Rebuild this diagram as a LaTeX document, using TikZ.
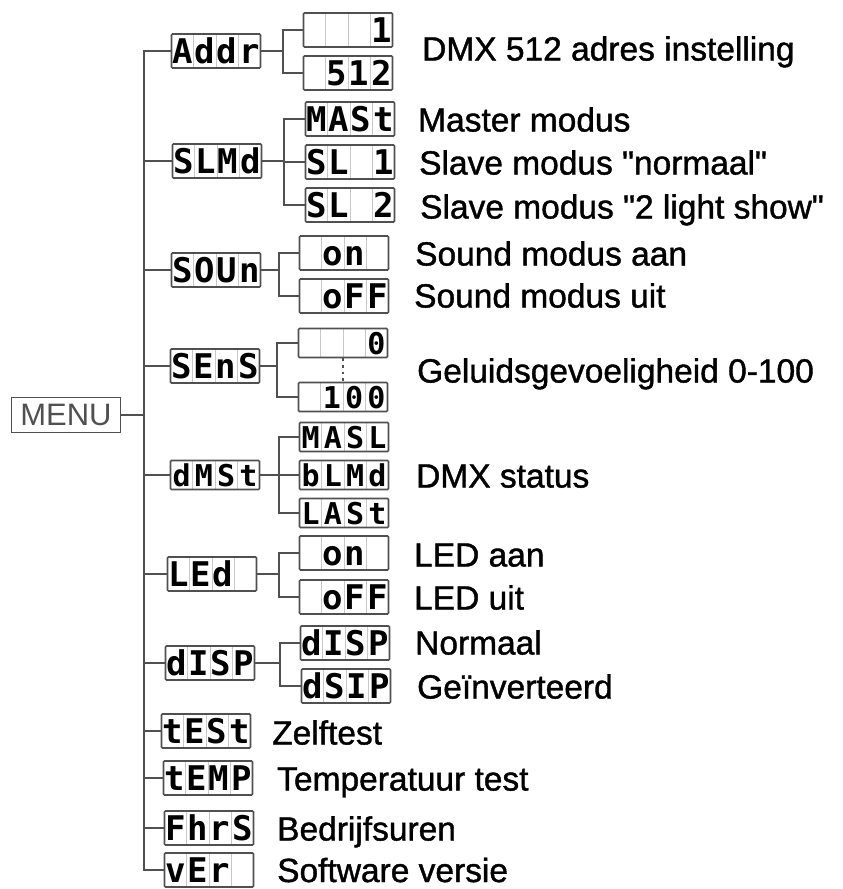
\documentclass[tikz,border=0pt]{standalone}
\usepackage{fontspec}
\setmainfont{Liberation Sans}[Ligatures=TeXOff]
\newfontfamily\lblfont{Liberation Sans}[Ligatures=TeXOff,FakeBold=1.2]
\newfontfamily\segfont{DejaVu Sans Mono}
\usetikzlibrary{calc}
\definecolor{ln}{RGB}{80,80,80}
\definecolor{sepc}{RGB}{200,200,200}
\newcommand\sgt[4]{\makebox[22.25pt]{#1}\makebox[22.25pt]{#2}\makebox[22.25pt]{#3}\makebox[22.25pt]{#4}}
\begin{document}
\begin{tikzpicture}[x=1pt,y=-1pt,
  conn/.style={draw=ln,line width=1.8pt},
  segbox/.style={draw=ln, line width=1.6pt, rounded corners=1pt,
    minimum width=89pt, minimum height=34pt, inner sep=0pt,
    font=\segfont\bfseries\fontsize{34}{34}\selectfont,
    text height=25pt, text depth=0pt,
    path picture={\foreach \f in {0.25,0.5,0.75}
      \draw[sepc,line width=0.9pt]
        ($(path picture bounding box.south west)!\f!(path picture bounding box.south east)$) --
        ($(path picture bounding box.north west)!\f!(path picture bounding box.north east)$);}},
  segs/.style={segbox, minimum height=29pt, text height=22.5pt, font=\segfont\bfseries\fontsize{30}{30}\selectfont},
  lbl/.style={anchor=base west, inner sep=0pt, text depth=0pt, font=\lblfont\fontsize{33.5}{36}\selectfont},
]
\useasboundingbox (0,0) rectangle (843,889);

% root
\node[draw=ln, line width=1.6pt, minimum width=109pt, minimum height=35pt, inner sep=0pt,
      text=ln, font=\fontsize{31}{31}\selectfont] (menu) at (66,415) {MENU};

% level 1
\node[segbox] (addr) at (216,51)  {\sgt{A}{d}{d}{r}};
\node[segbox] (slmd) at (217,161) {\sgt{S}{L}{M}{d}};
\node[segbox] (soun) at (216,270) {\sgt{S}{O}{U}{n}};
\node[segbox] (sens) at (215,366) {\sgt{S}{E}{n}{S}};
\node[segs]   (dmst) at (215,475) {\sgt{d}{M}{S}{t}};
\node[segbox] (led)  at (212,574) {\sgt{L}{E}{d}{}};
\node[segbox] (disp) at (210,663) {\sgt{d}{I}{S}{P}};
\node[segbox] (test) at (206,731) {\sgt{t}{E}{S}{t}};
\node[segbox] (temp) at (208,778) {\sgt{t}{E}{M}{P}};
\node[segbox] (fhrs) at (209,828) {\sgt{F}{h}{r}{S}};
\node[segbox] (ver)  at (209,870) {\sgt{v}{E}{r}{}};

% level 2
\node[segbox] (a1) at (348,30)  {\sgt{}{}{}{1}};
\node[segbox] (a2) at (348,73)  {\sgt{}{5}{1}{2}};
\node[segbox] (s1) at (350,119) {\sgt{M}{A}{S}{t}};
\node[segbox] (s2) at (350,162) {\sgt{S}{L}{}{1}};
\node[segbox] (s3) at (350,205) {\sgt{S}{L}{}{2}};
\node[segbox] (o1) at (344,253) {\sgt{}{o}{n}{}};
\node[segbox] (o2) at (344,296) {\sgt{}{o}{F}{F}};
\node[segs]   (n1) at (343,343) {\sgt{}{}{}{0}};
\node[segs]   (n2) at (343,397) {\sgt{}{1}{0}{0}};
\node[segs]   (d1) at (344,437) {\sgt{M}{A}{S}{L}};
\node[segs]   (d2) at (344,475) {\sgt{b}{L}{M}{d}};
\node[segs]   (d3) at (344,513) {\sgt{L}{A}{S}{t}};
\node[segbox] (l1) at (344,553) {\sgt{}{o}{n}{}};
\node[segbox] (l2) at (344,597) {\sgt{}{o}{F}{F}};
\node[segbox] (p1) at (345,643) {\sgt{d}{I}{S}{P}};
\node[segbox] (p2) at (346,686) {\sgt{d}{S}{I}{P}};

% trunk
\draw[conn] (menu.east) -- ++(23,0) coordinate (trunk);
\draw[conn] (addr.west) -| (trunk);
\draw[conn] (ver.west) -| (trunk);
\foreach \n in {slmd,soun,sens,dmst,led,disp,test,temp,fhrs}
  \draw[conn] (\n.west) -- (\n.west -| trunk);

% forks
\draw[conn] (addr.east) -- ++(21.5,0) coordinate (fa);
\draw[conn] (fa) |- (a1.west); \draw[conn] (fa) |- (a2.west);
\draw[conn] (slmd.east) -- ++(21.5,0) coordinate (fs);
\draw[conn] (fs) |- (s1.west); \draw[conn] (fs) |- (s2.west); \draw[conn] (fs) |- (s3.west);
\draw[conn] (soun.east) -- ++(17.5,0) coordinate (fo);
\draw[conn] (fo) |- (o1.west); \draw[conn] (fo) |- (o2.west);
\draw[conn] (sens.east) -- ++(16.5,0) coordinate (fn);
\draw[conn] (fn) |- (n1.west); \draw[conn] (fn) |- (n2.west);
\draw[ln, line width=2.6pt, dash pattern=on 2.6pt off 4pt] (n1.south) -- (n2.north);
\draw[conn] (dmst.east) -- ++(18.5,0) coordinate (fd);
\draw[conn] (fd) |- (d1.west); \draw[conn] (fd) |- (d2.west); \draw[conn] (fd) |- (d3.west);
\draw[conn] (led.east) -- ++(21.5,0) coordinate (fl);
\draw[conn] (fl) |- (l1.west); \draw[conn] (fl) |- (l2.west);
\draw[conn] (disp.east) -- ++(24.5,0) coordinate (fp);
\draw[conn] (fp) |- (p1.west); \draw[conn] (fp) |- (p2.west);

% labels
\node[lbl] (t1)  at (422,60.5)  {DMX 512 adres instelling};
\node[lbl] (t2)  at (418,131.5) {Master modus};
\node[lbl] (t3)  at (419,174.5) {Slave modus "normaal"};
\node[lbl] (t4)  at (420,218.5) {Slave modus "2 light show"};
\node[lbl] (t5)  at (415,265.5) {Sound modus aan};
\node[lbl] (t6)  at (414,307.5) {Sound modus uit};
\node[lbl] (t7)  at (417,382.5) {Geluidsgevoeligheid 0-100};
\node[lbl] (t8)  at (416,487.5) {DMX status};
\node[lbl] (t9)  at (414,566.5) {LED aan};
\node[lbl] (t10) at (414,609.5) {LED uit};
\node[lbl] (t11) at (415,654.5) {Normaal};
\node[lbl] (t12) at (417,698.5) {Geïnverteerd};
\node[lbl] (t13) at (272,744.5) {Zelftest};
\node[lbl] (t14) at (277,790.5) {Temperatuur test};
\node[lbl] (t15) at (277,840.5) {Bedrijfsuren};
\node[lbl] (t16) at (277,882) {Software versie};
\end{tikzpicture}
\end{document}
